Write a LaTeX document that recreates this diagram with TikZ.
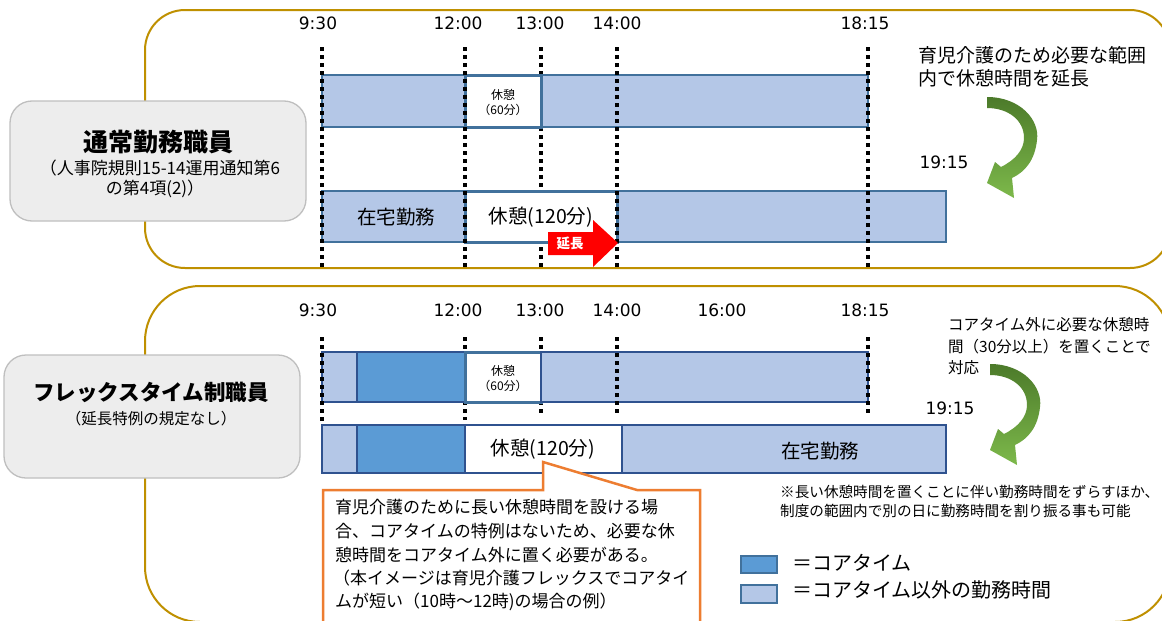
\documentclass[tikz,border=0pt]{standalone}
\usepackage{fontspec}
\setmainfont{Noto Sans CJK JP}
\newfontfamily\numfont{DejaVu Sans}
\definecolor{gold}{HTML}{BF9000}
\definecolor{barlight}{HTML}{B4C7E7}
\definecolor{bardark}{HTML}{5B9BD5}
\definecolor{barline}{HTML}{41719C}
\definecolor{barlinedk}{HTML}{2F528F}
\definecolor{graybox}{HTML}{EDEDED}
\definecolor{grayline}{HTML}{BFBFBF}
\definecolor{orangeline}{HTML}{ED7D31}
\definecolor{gdark}{HTML}{4C7A2A}
\definecolor{glight}{HTML}{7DB94B}
\begin{document}
\begin{tikzpicture}[x=1pt,y=-1pt,
  goldframe/.style={draw=gold,line width=2pt},
  lblbox/.style={draw=grayline,fill=graybox,line width=1.3pt,rounded corners=22pt},
  barL/.style={draw=barline,fill=barlight,line width=1.5pt},
  barLb/.style={draw=barlinedk,fill=barlight,line width=2pt},
  barD/.style={draw=barlinedk,fill=bardark,line width=2pt},
  brk/.style={draw=barline,fill=white,line width=3pt},
  dotline/.style={line width=3.5pt,dash pattern=on 3.5pt off 4.5pt},
  tlabel/.style={font=\numfont\fontsize{17}{20}\selectfont,inner sep=0pt},
  jtxt/.style={inner sep=0pt,font=\fontsize{#1}{#1}\selectfont},
  curvarrow/.pic={
    \shade[top color=gdark,bottom color=glight]
      (0,0) .. controls (33,0) and (53,23) .. (50,43)
      .. controls (48,63) and (38,75) .. (25,81)
      -- (27,101) -- (0,86) -- (8,65) -- (14,70)
      .. controls (28,63) and (37,53) .. (37,41)
      .. controls (37,23) and (21,11) .. (0,11) -- cycle;
  }
]
\useasboundingbox (0,0) rectangle (1162,621);
\clip (0,0) rectangle (1162,621);
\fill[white] (0,0) rectangle (1162,621);

% ---------- frames ----------
\draw[goldframe,rounded corners=40pt] (145,10) rectangle (1170,268);
\draw[goldframe,rounded corners=55pt] (145,286) rectangle (1170,622);

% ---------- label boxes ----------
\draw[lblbox] (10,101) rectangle (306,221);
\node[jtxt=25] (title1) at (158,142) {\bfseries 通常勤務職員};
\node[jtxt=17] (sub1a) at (160,168) {（人事院規則15-14運用通知第6};
\node[jtxt=17] (sub1b) at (155,189) {の第4項(2)）};

\draw[lblbox] (4,355) rectangle (300,478);
\node[jtxt=21.5] (title2) at (151,392) {\bfseries フレックスタイム制職員};
\node[jtxt=15.5] (sub2) at (151,419) {（延長特例の規定なし）};

% ---------- top section ----------
\node[tlabel] (ta1) at (318,23) {9:30};
\node[tlabel] (ta2) at (458,23) {12:00};
\node[tlabel] (ta3) at (540,23) {13:00};
\node[tlabel] (ta4) at (617,23) {14:00};
\node[tlabel] (ta5) at (865,23) {18:15};
\node[tlabel] (ta6) at (944,162) {19:15};

\draw[dotline] (541,47) -- (541,268);
\draw[barL] (322,75) rectangle (868,127);
\draw[brk] (465,75) rectangle (541,127);
\node[align=center,inner sep=0pt,font=\fontsize{12}{15}\selectfont] (brk1) at (503,102) {休憩\\（60分）};

\draw[barL] (322,191) rectangle (946,242);
\draw[brk] (465,191) rectangle (617,242);
\node[jtxt=19.5] (home1) at (396,217) {在宅勤務};
\node[jtxt=19.5] (rest1) at (541,217) {休憩(120分)};

\foreach \xx in {322,465,617,868} \draw[dotline] (\xx,47) -- (\xx,268);

% red arrow
\fill[red] (548,232) -- (593,232) -- (593,220) -- (618,243) -- (593,267) -- (593,255) -- (548,255) -- cycle;
\node[jtxt=13.5,text=white] (ext) at (570,243) {\bfseries 延長};

\node[jtxt=19,anchor=west] (n1a) at (918,55) {育児介護のため必要な範囲};
\node[jtxt=19,anchor=west] (n1b) at (918,78) {内で休憩時間を延長};
\pic at (987,97) {curvarrow};

% ---------- bottom section ----------
\node[tlabel] (tb1) at (318,310) {9:30};
\node[tlabel] (tb2) at (458,310) {12:00};
\node[tlabel] (tb3) at (540,310) {13:00};
\node[tlabel] (tb4) at (617,310) {14:00};
\node[tlabel] (tb5) at (722,310) {16:00};
\node[tlabel] (tb6) at (865,310) {18:15};
\node[tlabel] (tb7) at (950,408) {19:15};

\draw[dotline] (465,337) -- (465,420);
\draw[dotline] (541,337) -- (541,416);

\draw[barLb] (322,352) rectangle (357,402);
\draw[barD] (357,352) rectangle (465,402);
\draw[brk] (465,352) rectangle (541,402);
\draw[barLb] (541,352) rectangle (868,402);
\node[align=center,inner sep=0pt,font=\fontsize{12}{15}\selectfont] (brk2) at (503,378) {休憩\\（60分）};

\draw[barLb] (322,425) rectangle (357,473);
\draw[barD] (357,425) rectangle (465,473);
\draw[barLb,fill=white] (465,425) rectangle (622,473);
\draw[barLb] (622,425) rectangle (946,473);
\node[jtxt=19.5] (rest2) at (543,449) {休憩(120分)};
\node[jtxt=19.5] (home2) at (820,451) {在宅勤務};

\draw[dotline] (322,337) -- (322,422);
\draw[dotline] (617,337) -- (617,413);
\draw[dotline] (868,337) -- (868,413);

\node[jtxt=15.5,anchor=west] (n2a) at (948,325) {コアタイム外に必要な休憩時};
\node[jtxt=15.5,anchor=west] (n2b) at (948,347) {間（30分以上）を置くことで};
\node[jtxt=15.5,anchor=west] (n2c) at (948,368) {対応};
\pic at (990,364) {curvarrow};

% callout
\draw[draw=orangeline,fill=white,line width=2.5pt,line join=miter]
  (323,490) -- (543,490) -- (543,462) -- (637,490) -- (700,490) -- (700,640) -- (323,640) -- cycle;
\node[jtxt=17,anchor=west] (c1) at (335,507) {育児介護のために長い休憩時間を設ける場};
\node[jtxt=17,anchor=west] (c2) at (335,531) {合、コアタイムの特例はないため、必要な休};
\node[jtxt=17,anchor=west] (c3) at (335,555) {憩時間をコアタイム外に置く必要がある。};
\node[jtxt=17,anchor=west] (c4) at (333,578) {（本イメージは育児介護フレックスでコアタイ};
\node[jtxt=17,anchor=west] (c5) at (335,602) {ムが短い（10時～12時)の場合の例）};

% note
\node[jtxt=14.6,anchor=west] (nt1) at (780,492) {※長い休憩時間を置くことに伴い勤務時間をずらすほか、};
\node[jtxt=14.6,anchor=west] (nt2) at (780,511) {制度の範囲内で別の日に勤務時間を割り振る事も可能};

% legend
\draw[draw=barline,fill=bardark,line width=1.2pt] (741,556) rectangle (777,573);
\draw[draw=barline,fill=barlight,line width=1.2pt] (741,585) rectangle (777,603);
\node[jtxt=20,anchor=west] (lg1) at (792,563) {＝コアタイム};
\node[jtxt=20,anchor=west] (lg2) at (792,590) {＝コアタイム以外の勤務時間};
\end{tikzpicture}
\end{document}
